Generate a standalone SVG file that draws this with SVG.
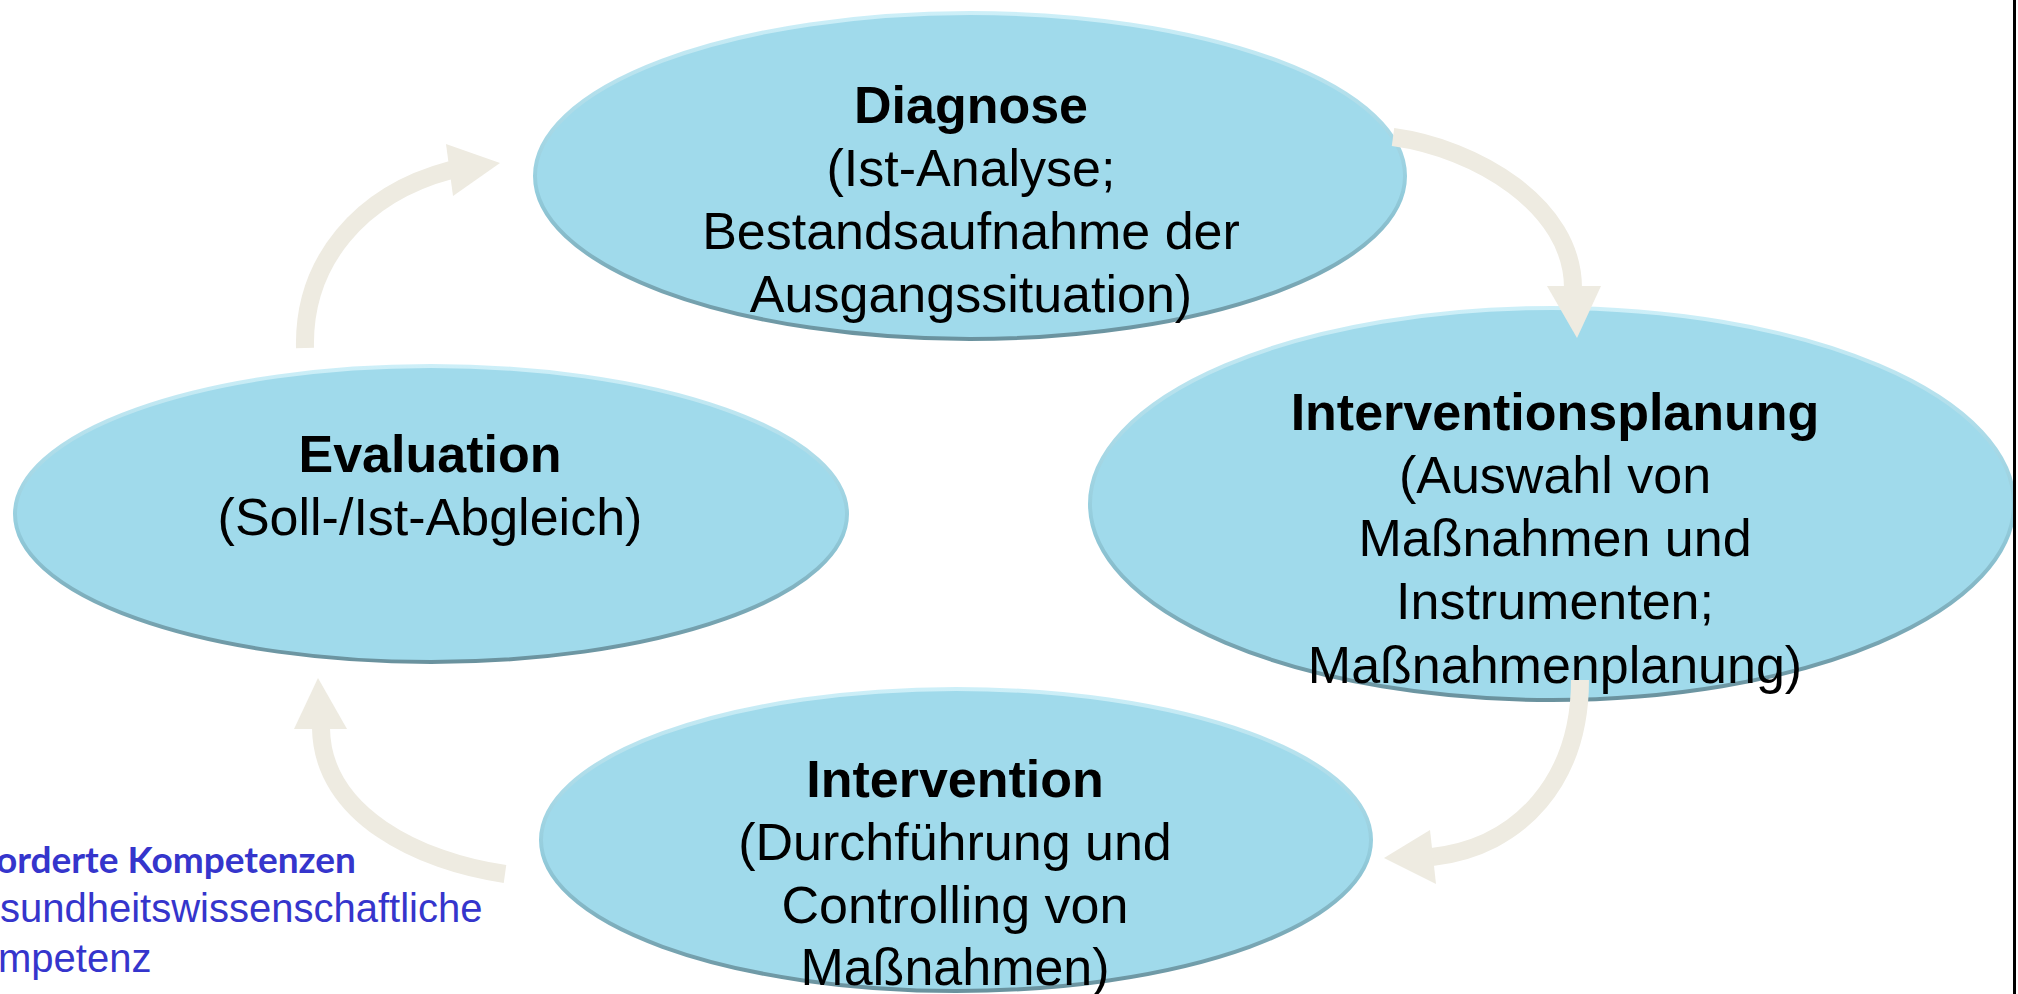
<svg xmlns="http://www.w3.org/2000/svg" width="2018" height="994" viewBox="0 0 2018 994">
<defs>
<linearGradient id="rim" x1="0" y1="0" x2="0" y2="1">
<stop offset="0" stop-color="#CDEFF8"/>
<stop offset="0.55" stop-color="#93CCDC"/>
<stop offset="1" stop-color="#6A929E"/>
</linearGradient>
<style>
.node ellipse{fill:#A0DAEB;stroke:url(#rim);stroke-width:4}
.t{font-family:"Liberation Sans",Arial,sans-serif;font-size:52px;fill:#000;text-anchor:middle}
.b{font-weight:bold}
.arr path{fill:none;stroke:#EEEBE1;stroke-width:18}
.arr polygon{fill:#EEEBE1}
.note{font-family:"Liberation Sans",Arial,sans-serif;font-size:40px;fill:#3535CC}
.noteb{font-family:Lato,"Open Sans",sans-serif;font-weight:bold;font-size:37px;fill:#3535CC}
</style>
</defs>
<rect width="2018" height="994" fill="#FFFFFF"/>
<g id="note">
<text class="noteb" x="-4" y="873">orderte Kompetenzen</text>
<text class="note" x="0" y="922">sundheitswissenschaftliche</text>
<text class="note" x="-2" y="972">mpetenz</text>
</g>
<g id="diagnose" class="node">
<ellipse cx="970" cy="176" rx="435" ry="163"/>
<text class="t b" x="971" y="123">Diagnose</text>
<text class="t" x="971" y="186">(Ist-Analyse;</text>
<text class="t" x="971" y="249">Bestandsaufnahme der</text>
<text class="t" x="971" y="312">Ausgangssituation)</text>
</g>
<g id="interventionsplanung" class="node">
<ellipse cx="1552" cy="504" rx="462" ry="196"/>
<text class="t b" x="1555" y="430">Interventionsplanung</text>
<text class="t" x="1555" y="493">(Auswahl von</text>
<text class="t" x="1555" y="556">Maßnahmen und</text>
<text class="t" x="1555" y="619">Instrumenten;</text>
<text class="t" x="1555" y="683">Maßnahmenplanung)</text>
</g>
<g id="evaluation" class="node">
<ellipse cx="431" cy="514" rx="416" ry="148"/>
<text class="t b" x="430" y="472">Evaluation</text>
<text class="t" x="430" y="535">(Soll-/Ist-Abgleich)</text>
</g>
<g id="intervention" class="node">
<ellipse cx="956" cy="840" rx="415" ry="151"/>
<text class="t b" x="955" y="797">Intervention</text>
<text class="t" x="955" y="860">(Durchführung und</text>
<text class="t" x="955" y="923">Controlling von</text>
<text class="t" x="955" y="985">Maßnahmen)</text>
</g>
<g id="connectors" class="arr">
<path d="M1393,137 C1475,148 1573,205 1573,288"/>
<polygon points="1547,286 1601,286 1577,338"/>
<path d="M1580,680 C1580,778 1522,847 1432,857"/>
<polygon points="1430,830 1436,884 1384,858"/>
<path d="M505,874 C420,862 322,815 321,728"/>
<polygon points="294,729 347,729 318,678"/>
<path d="M305,348 C303,262 360,194 451,170"/>
<polygon points="446,144 453,196 500,163"/>
</g>
<rect x="2013" y="0" width="3" height="994" fill="#000000"/>
</svg>
